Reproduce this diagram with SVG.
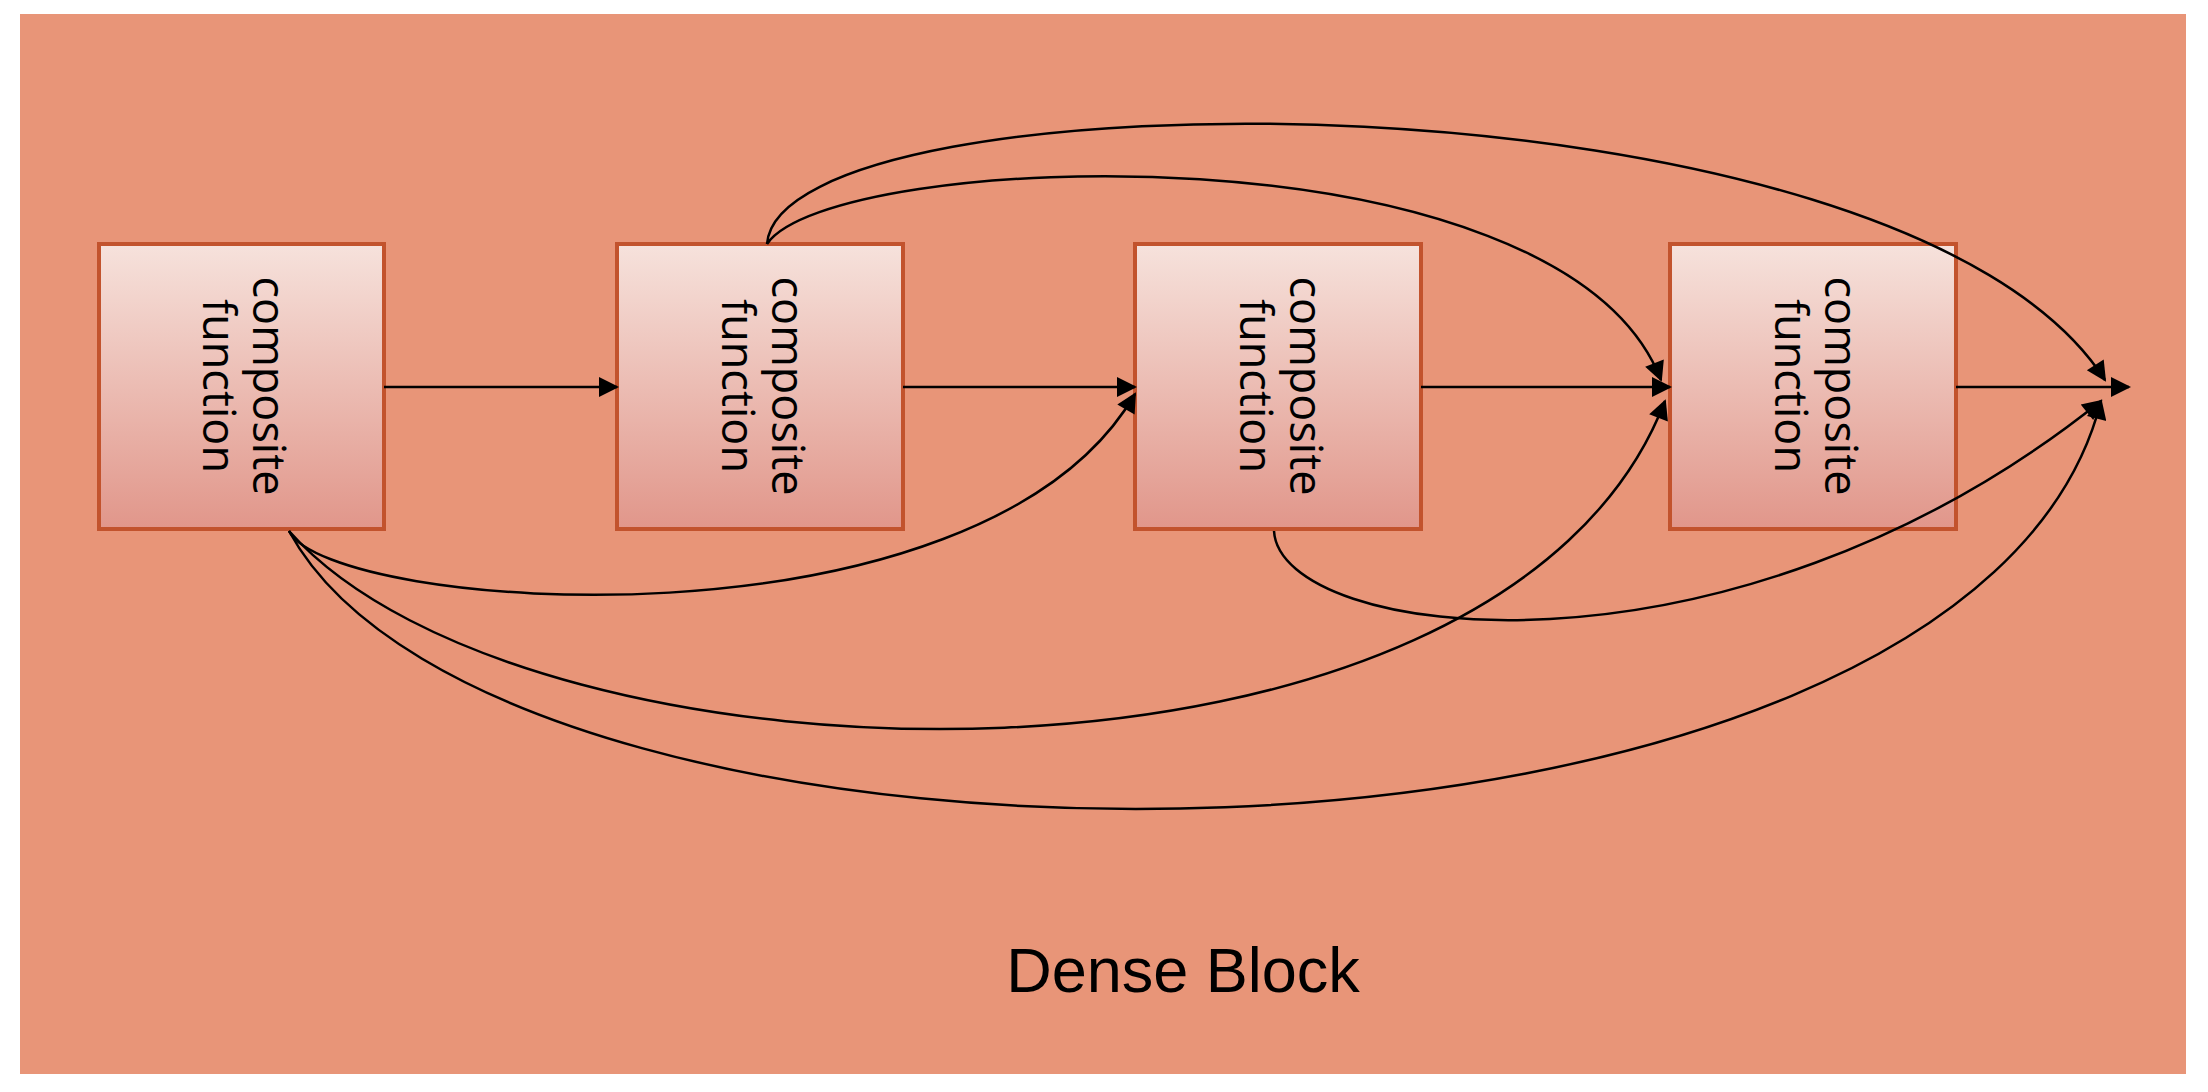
<svg xmlns="http://www.w3.org/2000/svg" width="2208" height="1092" viewBox="0 0 2208 1092">
<defs>
<linearGradient id="g" x1="0" y1="0" x2="0" y2="1"><stop offset="0" stop-color="#F6E2DC"/><stop offset="1" stop-color="#E1968A"/></linearGradient>
<marker id="a" viewBox="0 0 10 10" refX="9" refY="5" markerWidth="22" markerHeight="20" markerUnits="userSpaceOnUse" orient="auto"><path d="M0,0L10,5L0,10z" fill="#000"/></marker>
</defs>
<style>
.box{fill:url(#g);stroke:#C2532D;stroke-width:4}
.t{font-family:"Open Sans","Liberation Sans",sans-serif;font-size:45px;fill:#000;text-anchor:middle}
.c{fill:none;stroke:#000;stroke-width:2.5;marker-end:url(#a)}
</style>
<rect x="0" y="0" width="2208" height="1092" fill="#fff"/>
<rect x="20" y="14" width="2166" height="1060" fill="#E89578"/>
<g id="n1"><rect class="box" x="99" y="244" width="285" height="285"/><text class="t" transform="translate(241,386) rotate(90)"><tspan x="0" y="-12">composite</tspan><tspan x="0" y="38">function</tspan></text></g>
<g id="n2"><rect class="box" x="617" y="244" width="286" height="285"/><text class="t" transform="translate(760,386) rotate(90)"><tspan x="0" y="-12">composite</tspan><tspan x="0" y="38">function</tspan></text></g>
<g id="n3"><rect class="box" x="1135" y="244" width="286" height="285"/><text class="t" transform="translate(1278,386) rotate(90)"><tspan x="0" y="-12">composite</tspan><tspan x="0" y="38">function</tspan></text></g>
<g id="n4"><rect class="box" x="1670" y="244" width="286" height="285"/><text class="t" transform="translate(1813,386) rotate(90)"><tspan x="0" y="-12">composite</tspan><tspan x="0" y="38">function</tspan></text></g>
<g id="connectors">
<path class="c" d="M384,387H617"/>
<path class="c" d="M903,387H1135"/>
<path class="c" d="M1421,387H1670"/>
<path class="c" d="M1956,387H2129"/>
<path class="c" d="M289,531C330,612 980,660 1135,394"/>
<path class="c" d="M289,531C527,800 1500,830 1665,401"/>
<path class="c" d="M289,531C500,921 1970,921 2101,401"/>
<path class="c" d="M767,244C830,150 1560,120 1661,380"/>
<path class="c" d="M767,244C780,70 1900,60 2105,380"/>
<path class="c" d="M1274,531C1280,640 1728,700 2101,401"/>
</g>
<text x="1183" y="992" font-family="'Liberation Sans',sans-serif" font-size="63" text-anchor="middle">Dense Block</text>
</svg>
